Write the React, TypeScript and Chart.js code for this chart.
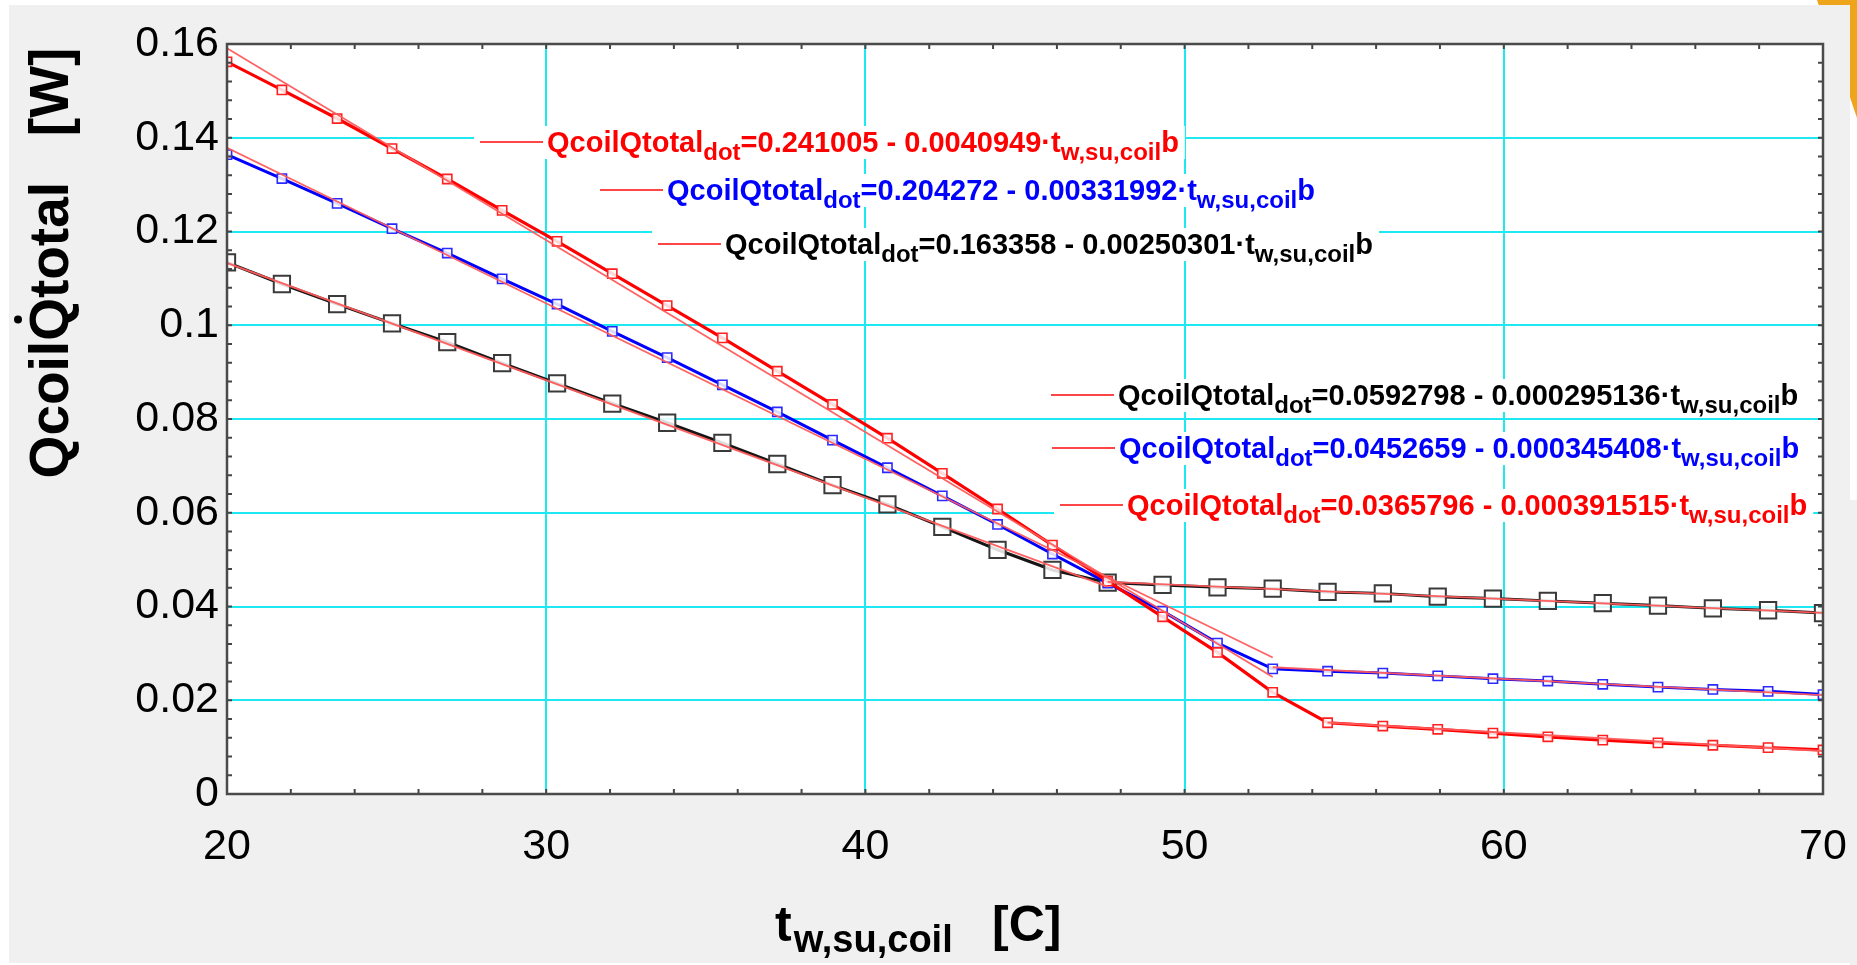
import React, { useEffect, useRef } from "react";
import { Chart, registerables } from "chart.js";

Chart.register(...registerables);

// ---------- data ----------
const xValues = [
  20, 21.72, 23.45, 25.17, 26.9, 28.62, 30.34, 32.07, 33.79, 35.52, 37.24, 38.97, 40.69, 42.41, 44.14,
  45.86, 47.59, 49.31, 51.03, 52.76, 54.48, 56.21, 57.93, 59.66, 61.38, 63.1, 64.83, 66.55, 68.28, 70,
];
const redValues = [
  0.1562, 0.1502, 0.1441, 0.1377, 0.1312, 0.1245, 0.1179, 0.111, 0.1042, 0.0973, 0.0902, 0.0831, 0.0759,
  0.0684, 0.0608, 0.0531, 0.0454, 0.0378, 0.0302, 0.0217, 0.0152, 0.0145, 0.0138, 0.013, 0.0122, 0.0115,
  0.0109, 0.0104, 0.0099, 0.0094,
];
const blueValues = [
  0.1364, 0.1313, 0.126, 0.1206, 0.1154, 0.1099, 0.1045, 0.0987, 0.0931, 0.0873, 0.0815, 0.0755, 0.0696,
  0.0636, 0.0575, 0.0512, 0.045, 0.039, 0.0322, 0.0267, 0.0262, 0.0258, 0.0252, 0.0246, 0.0241, 0.0234,
  0.0228, 0.0223, 0.0219, 0.0212,
];
const blackValues = [
  0.1134, 0.1088, 0.1045, 0.1004, 0.0964, 0.0919, 0.0876, 0.0833, 0.0792, 0.0749, 0.0704, 0.0659, 0.0618,
  0.057, 0.0521, 0.0478, 0.0451, 0.0446, 0.0441, 0.0438, 0.0431, 0.0428, 0.0421, 0.0417, 0.0412, 0.0407,
  0.0402, 0.0396, 0.0392, 0.0386,
];

// fitted lines (first regime, second regime) for red, blue, black
const fitIntercepts1 = [0.241005, 0.204272, 0.163358];
const fitSlopes1 = [0.0040949, 0.00331992, 0.00250301];
const fitStart1 = [20, 20, 20];
const fitEnd1 = [52.76, 52.76, 47.59];
const fitIntercepts2 = [0.0365796, 0.0452659, 0.0592798];
const fitSlopes2 = [0.000391515, 0.000345408, 0.000295136];
const fitStart2 = [54.48, 52.76, 47.59];
const fitEnd2 = [70, 70, 70];

// annotation labels
const labelCoefs = [
  "0.241005 - 0.0040949",
  "0.204272 - 0.00331992",
  "0.163358 - 0.00250301",
  "0.0592798 - 0.000295136",
  "0.0452659 - 0.000345408",
  "0.0365796 - 0.000391515",
];
const labelColors = ["#ff0000", "#0000ff", "#000000", "#000000", "#0000ff", "#ff0000"];
const labelX = [480, 600, 658, 1051, 1052, 1060];
const labelY = [142, 190, 244, 395, 448, 505];

const xTickStep = 10;
const yTickStep = 0.02;

const FONT = '"Liberation Sans", Arial, sans-serif';
const GRID = "rgb(30,232,242)";

function fmt(v: number) {
  return String(+Number(v).toFixed(4));
}

function drawLabel(ctx: CanvasRenderingContext2D, x: number, y: number, color: string, coef: string, maxRight: number) {
  const main = `bold 29px ${FONT}`;
  const sub = `bold 24px ${FONT}`;
  const segs = [
    { t: "QcoilQtotal", f: main, dy: 0 },
    { t: "dot", f: sub, dy: 8 },
    { t: "=" + coef + "·t", f: main, dy: 0 },
    { t: "w,su,coil", f: sub, dy: 8 },
    { t: "b", f: main, dy: 0 },
  ];
  let w = 0;
  for (const s of segs) {
    ctx.font = s.f;
    w += ctx.measureText(s.t).width;
  }
  const tx = x + 67;
  const boxRight = Math.min(tx + w + 6, maxRight);
  ctx.fillStyle = "#ffffff";
  ctx.fillRect(x - 6, y - 16, boxRight - (x - 6), 33);
  ctx.strokeStyle = "rgb(255,70,70)";
  ctx.lineWidth = 2;
  ctx.beginPath();
  ctx.moveTo(x, y);
  ctx.lineTo(x + 63, y);
  ctx.stroke();
  ctx.fillStyle = color;
  ctx.textAlign = "left";
  ctx.textBaseline = "alphabetic";
  let cx = tx;
  for (const s of segs) {
    ctx.font = s.f;
    ctx.fillText(s.t, cx, y + 10 + s.dy);
    cx += ctx.measureText(s.t).width;
  }
}

const decorPlugin = {
  id: "decor",
  beforeDraw(chart: any) {
    const ctx = chart.ctx as CanvasRenderingContext2D;
    const { chartArea } = chart;
    ctx.save();
    ctx.fillStyle = "#ffffff";
    ctx.fillRect(0, 0, chart.width, chart.height);
    // orange shape in the corner
    ctx.fillStyle = "#eea51c";
    ctx.beginPath();
    ctx.moveTo(1817, 0);
    ctx.lineTo(1857, 0);
    ctx.lineTo(1857, 118);
    ctx.closePath();
    ctx.fill();
    // grey panel
    ctx.fillStyle = "#f0f0f0";
    ctx.fillRect(9, 5, 1841, 958);
    ctx.fillRect(1850, 500, 7, 465);
    // plot area
    ctx.fillStyle = "#ffffff";
    ctx.fillRect(chartArea.left, chartArea.top, chartArea.right - chartArea.left, chartArea.bottom - chartArea.top);
    ctx.restore();
  },
  beforeDatasetsDraw(chart: any) {
    const ctx = chart.ctx as CanvasRenderingContext2D;
    ctx.save();
    for (let i = 0; i < labelCoefs.length; i++) {
      drawLabel(ctx, labelX[i], labelY[i], labelColors[i], labelCoefs[i], chart.chartArea.right - 2);
    }
    ctx.restore();
  },
  afterDraw(chart: any) {
    const ctx = chart.ctx as CanvasRenderingContext2D;
    const { left, right, top, bottom } = chart.chartArea;
    const xs = chart.scales.x;
    const ys = chart.scales.y;
    ctx.save();
    // minor ticks
    ctx.strokeStyle = "#454545";
    ctx.lineWidth = 2;
    ctx.beginPath();
    for (let v = 20; v <= 70.001; v += 2) {
      const px = xs.getPixelForValue(v);
      ctx.moveTo(px, bottom);
      ctx.lineTo(px, bottom - 5);
      ctx.moveTo(px, top);
      ctx.lineTo(px, top + 5);
    }
    for (let k = 0; k <= 40; k++) {
      const py = ys.getPixelForValue(k * 0.004);
      ctx.moveTo(left, py);
      ctx.lineTo(left + 5, py);
      ctx.moveTo(right, py);
      ctx.lineTo(right - 5, py);
    }
    ctx.stroke();
    // frame
    ctx.strokeStyle = "#4a4a4a";
    ctx.lineWidth = 2.5;
    ctx.strokeRect(left, top, right - left, bottom - top);

    // y title
    ctx.fillStyle = "#000";
    ctx.save();
    ctx.translate(51, 263);
    ctx.rotate(-Math.PI / 2);
    ctx.font = `bold 55px ${FONT}`;
    ctx.textAlign = "left";
    ctx.textBaseline = "middle";
    const yTitle = "QcoilQtotal   [W]";
    const W = ctx.measureText(yTitle).width;
    ctx.fillText(yTitle, -W / 2, 2);
    const u = -W / 2 + ctx.measureText("Qcoil").width + ctx.measureText("Q").width / 2;
    ctx.beginPath();
    ctx.arc(u, -33, 4, 0, Math.PI * 2);
    ctx.fill();
    ctx.restore();

    // x title
    ctx.textAlign = "left";
    ctx.textBaseline = "alphabetic";
    ctx.font = `bold 50px ${FONT}`;
    ctx.fillText("t", 775, 941);
    const tw = ctx.measureText("t").width;
    ctx.font = `bold 38px ${FONT}`;
    ctx.fillText("w,su,coil", 775 + tw + 2, 952);
    ctx.font = `bold 50px ${FONT}`;
    ctx.fillText("[C]", 992, 941);
    ctx.restore();
  },
};

function makeFit(i: number, a: number[], b: number[], s: number[], e: number[]) {
  return {
    label: "fit",
    data: [
      { x: s[i], y: a[i] - b[i] * s[i] },
      { x: e[i], y: a[i] - b[i] * e[i] },
    ],
    showLine: true,
    borderColor: "rgba(255,90,90,0.95)",
    borderWidth: 1.8,
    pointRadius: 0,
    pointHoverRadius: 0,
  };
}

export default function App() {
  const ref = useRef<HTMLCanvasElement | null>(null);
  useEffect(() => {
    document.body.style.margin = "0";
    const canvas = ref.current!;
    const fits: any[] = [];
    for (let i = 0; i < 3; i++) {
      fits.push(makeFit(i, fitIntercepts1, fitSlopes1, fitStart1, fitEnd1));
      fits.push(makeFit(i, fitIntercepts2, fitSlopes2, fitStart2, fitEnd2));
    }
    const pts = (vals: number[]) => xValues.map((x, i) => ({ x, y: vals[i] }));
    const chart = new Chart(canvas, {
      type: "scatter",
      data: {
        datasets: [
          ...fits,
          {
            label: "red",
            data: pts(redValues),
            showLine: true,
            borderColor: "#ff0000",
            borderWidth: 3.2,
            pointStyle: "rect",
            pointRadius: 6.5,
            pointBorderWidth: 1.6,
            pointBorderColor: "#ff2020",
            pointBackgroundColor: "rgba(255,255,255,0.85)",
          },
          {
            label: "blue",
            data: pts(blueValues),
            showLine: true,
            borderColor: "#0000ff",
            borderWidth: 3,
            pointStyle: "rect",
            pointRadius: 6.5,
            pointBorderWidth: 1.6,
            pointBorderColor: "#2a2aff",
            pointBackgroundColor: "rgba(255,255,255,0.85)",
          },
          {
            label: "black",
            data: pts(blackValues),
            showLine: true,
            borderColor: "#151515",
            borderWidth: 3,
            pointStyle: "rect",
            pointRadius: 11.5,
            pointBorderWidth: 2,
            pointBorderColor: "#3a3a3a",
            pointBackgroundColor: "rgba(255,255,255,0.85)",
          },
        ],
      } as any,
      options: {
        responsive: false,
        animation: false,
        devicePixelRatio: 1,
        layout: { padding: { top: 44, right: 34, left: 0, bottom: 0 } },
        plugins: { legend: { display: false }, tooltip: { enabled: false } },
        scales: {
          x: {
            type: "linear",
            min: 20,
            max: 70,
            ticks: {
              stepSize: xTickStep,
              color: "#000",
              font: { family: FONT, size: 43 },
              padding: 27,
              callback: (v: any) => fmt(v),
            },
            grid: { color: GRID, lineWidth: 2, drawTicks: false },
            border: { display: false },
            afterFit: (s: any) => {
              s.height = 171;
              s.paddingLeft = 0;
              s.paddingRight = 0;
            },
          },
          y: {
            type: "linear",
            min: 0,
            max: 0.16,
            ticks: {
              stepSize: yTickStep,
              color: "#000",
              font: { family: FONT, size: 43 },
              padding: 8,
              callback: (v: any) => fmt(v),
            },
            grid: { color: GRID, lineWidth: 2, drawTicks: false },
            border: { display: false },
            afterFit: (s: any) => {
              s.width = 227;
              s.paddingTop = 0;
              s.paddingBottom = 0;
            },
          },
        },
      } as any,
      plugins: [decorPlugin],
    });
    return () => chart.destroy();
  }, []);
  return <canvas ref={ref} width={1857} height={965} style={{ display: "block", width: 1857, height: 965 }} />;
}
